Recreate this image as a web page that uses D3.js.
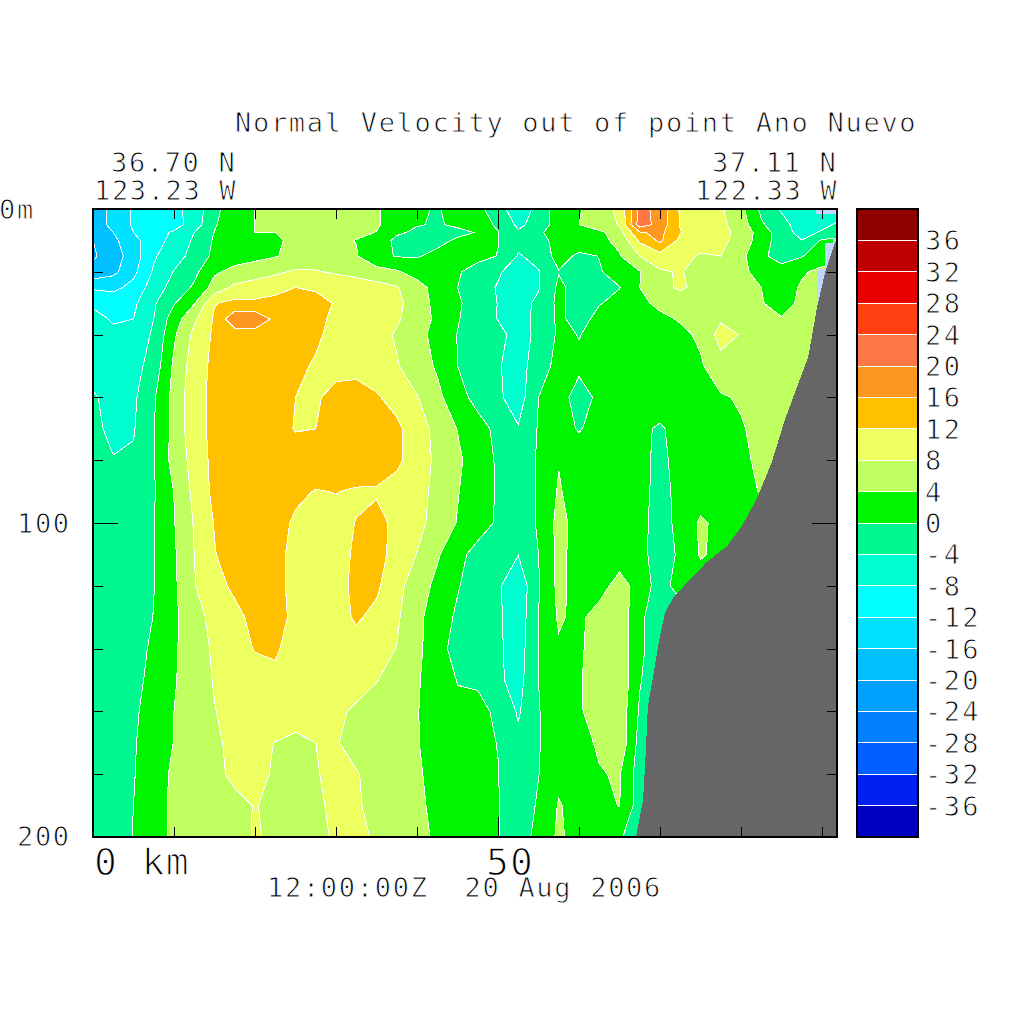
<!DOCTYPE html>
<html><head><meta charset="utf-8">
<script src="https://cdn.jsdelivr.net/npm/d3@7"></script>
<style>
html,body{margin:0;padding:0;background:#fff}
svg{display:block}
text{font-family:"DejaVu Sans Mono",monospace;fill:#000;stroke:#fff;paint-order:fill stroke}
</style></head><body>
<svg id="c" width="1024" height="1024"></svg>
<script>
// ---- DATA ----
const titleText = "Normal Velocity out of point Ano Nuevo";
const dateText = "12:00:00Z  20 Aug 2006";
const startLabels = ["36.70 N", "123.23 W"];
const endLabels = ["37.11 N", "122.33 W"];
const depthLabels = [[0, "0m"], [100, "100"], [200, "200"]];
const levels = d3.range(-40, 41, 4);
const bandColors = ["#0000c0","#0020f0","#0060ff","#0080ff","#00a0ff","#00c0ff","#00e0ff","#00ffff","#00ffd0","#00f890",
                    "#00f500","#c0ff60","#eeff60","#ffc000","#ff9820","#ff7845","#ff4010","#e80000","#bf0000","#900000"];
const kmColumns = d3.range(0, 92.6, 2.5);
const depthRows = [0,5,7.5,10,15,20,25,30,35,40,50,60,70,80,90,100,110,120,130,140,150,160,170,180,190,200];
const d000=[-18,-15,-11.5,-10,-9,-6.7,-0.9,2,4.1,6,6.5,6.5,6,5.5,4.4,2.5,0.6,-0.3,1.5,1,-2,-7,-2.5,2,3.6,6.5,8.7,21,19,11.5,9.5,8.5,5,-0.8,-4.5,-6,-6,-6];
const d005=[-18,-15,-11.5,-10,-9.5,-6.2,-0.3,2,4.1,6,6.5,6.5,6,5.5,4.5,2,0.2,-0.3,0.5,1.5,-0.5,-4.8,-2.5,2,4,6.5,8.2,22,18.5,11.7,9.5,9,6,0.5,-2.5,-6,-5,-3];
const d007=[-19,-16,-12,-9.5,-7.5,-4,0.1,2.5,4,4,5.5,6,5.5,4.8,3.9,0.5,-0.6,-0.8,-0.8,0.2,0.1,-3.5,-0.5,1.5,2.5,3,6.5,15.5,17,12.2,10,9,7,2,-2,-5.5,-3.5,-2];
const d010=[-20,-17,-13,-10,-6.5,-3.5,0.5,2.5,3,3.6,4.6,5.2,4.6,3.9,2,-0.8,-1.3,-1,0.5,1,0.1,-3,-1.5,1.5,2.5,3,5,12.7,16.8,11,10,9,6.5,2,-2,-3.9,0.5,1];
const d015=[-20.5,-18,-14,-8.5,-5.5,-2.8,1,2.5,3,3.8,5,5.6,5,4.3,1,-0.2,-0.3,1,1.5,1,-0.1,-4.3,-3,1.6,-0.8,0.1,3.7,8,10.5,9.5,7.5,8,5,1,-2,-0.2,2,2.5];
const d020=[-19,-17,-13,-7.5,-3.8,-1,3.5,5,6,7.2,8.6,8.3,7.5,6.5,5.5,4.5,2.5,1.5,0.4,-1.5,-3.5,-6,-4.2,-0.2,-1.5,-0.3,1.5,3.8,7.5,8.3,6.5,6.5,5,2.5,2,3.5,5,5];
const d025=[-12.5,-13,-10.8,-6,-2.5,0.6,5.5,9,10,11,12,11.5,11,10.5,9.5,8.3,5.5,2.5,0,-2.3,-4.3,-6.5,-4.3,0.8,-1.5,-2.5,-0.1,4,7,8.5,7,6.5,5.5,4,2,4.5,5.5,5.5];
const d030=[-8.8,-9.5,-8.8,-4.5,-0.3,3.8,11.8,13,12.7,13,13.5,13.3,11.7,11,10,9,6,2.8,0.6,-2,-4.1,-5.5,-3.2,1,-2,-0.2,1,3,5,6,7.7,6.5,5.5,4.3,2.2,5,5.5,5.5];
const d035=[-6.5,-8.5,-8,-4,2,7.3,12.5,19,19,15,14.5,13.2,11,10.7,10,8.5,6,3.2,0.3,-2.2,-4.1,-5.5,-3,0.7,-1.3,1,1.3,2,3,4.4,6.5,7.5,6,4.8,4.3,5.5,5.5,5.5];
const d040=[-6,-7,-6.3,-3.5,3.4,9,12.7,14,14.2,14.5,14.2,12.8,10.5,10,9.3,7.6,5.3,2.7,-0.1,-1.5,-3.1,-5.2,-3.3,0.7,-0.1,0.8,1,1.5,2,3,4.7,9.5,7.8,6,5.8,5.5,5.5,5.5];
const d050=[-6,-6.5,-5.5,-2.3,4.7,10,13,14,14.5,14,13,11.5,11,10.5,9.5,8.3,6,3.5,0,-1.5,-3.6,-6,-1.5,1,0.5,1,1.2,1.5,2,2.7,3.5,6.5,6,6.5,6,5.5,5,5];
const d060=[-3.5,-5.5,-4.7,-0.5,5.3,10.6,13,14,14,13.5,12,11.6,13,14,12.5,10.3,8.2,5,1.5,-1.3,-3.3,-6,0,1,-1,0.5,1.5,1.8,2.2,2.5,3,3.6,4.4,5.5,6,6,6,6];
const d070=[-3,-5,-4.3,-0.2,5.3,10.5,13,14,14.5,14,11.7,12,14,14.5,14,13,9.5,7,3.9,1.5,-1,-3.7,0.3,1,-0.2,1,1.5,0.8,-0.5,1.5,2.5,3,3.7,5,5.5,5.5,5.5,5.5];
const d080=[-2.7,-3.8,-3.5,-0.3,5.5,9.4,13.2,14,14.5,15,14.5,14.5,15,15,14.5,12.8,10,7.2,4.7,2,-0.5,-2.8,0.5,3.8,1.5,1.5,2,0.8,-0.7,1,2,2.8,3.5,4.5,5,5,5,5];
const d090=[-2.7,-3,-2,-0.3,4.1,9,13,14,14,14,12.8,11.8,12.1,11.5,11.5,10.5,9.3,7,4.2,2,-0.4,-2.5,0.5,4.4,2,1,2,0.8,-0.8,0.7,2,2.5,3,4.2,4.5,4.5,4.5,4.5];
const d100=[-2.7,-2.7,-1.8,-0.2,3.8,8.3,12.2,14,14.2,13.5,11.4,11,11,12.1,13.5,10.8,9,6.7,3.8,1.6,-0.5,-2.8,0.5,5.2,2.5,1,1.5,0.7,-1,0.7,4.6,3,3,3,3,3,3,3];
const d110=[-2.8,-2.8,-1.8,-0.1,3.5,8,11.8,14,14,13,11,10.5,10.8,12.5,13.5,10.5,7.9,4.5,1,-1.2,-0.1,-3.9,0,5,2.5,1,1.5,1,-1.5,0.5,4.4,3,3,3,3,3,3,3];
const d120=[-2.8,-2.8,-1.8,-0.1,3.3,7.8,10.8,12.7,13.5,13,11,10.5,10.5,13,12.7,9.2,6,3,0.3,-2,-3.4,-7,-0.3,5,2.5,2,6,2,-1.5,1.5,2,2,2,2,2,2,2,2];
const d130=[-3,-2.8,-2,0.1,3.2,6.8,9,11,13,13.5,11,10.5,10.5,12.5,11,8.6,5,2,-0.6,-2.2,-3.3,-6.5,0,4.5,3,6,6.5,1,-3,-2,-2,-2,-2,-2,-2,-2,-2,-2];
const d140=[-3,-2.8,-1.5,0.7,3.4,6.5,8.5,10.5,12.2,12.3,11,10.5,10.5,10.5,9.5,7.9,5,1.5,-1.5,-2.5,-3.3,-6,0,3.5,3.5,5.5,6.5,1,-3,-3,-3,-3,-3,-3,-3,-3,-3,-3];
const d150=[-3,-2.5,-1,1,3.6,6.5,8.2,9.5,10.5,11.5,11,10,9.5,9,8.1,7,4.5,1.5,-0.1,-0.3,-3.3,-5.5,0,2.5,3.8,5,7,0.3,-3,-3,-3,-3,-3,-3,-3,-3,-3,-3];
const d160=[-3,-2.2,-0.5,1.3,4,6,7.9,9,10,10.5,9,8,8.5,7.6,7,6,4.2,2,0.5,0.6,-0.4,-4.5,-0.2,2.5,3.8,4.8,6.5,-0.5,-3,-3,-3,-3,-3,-3,-3,-3,-3,-3];
const d170=[-3,-2,-0.3,1.7,4.1,6,7.6,8.6,9,7.9,7.5,8,8.2,7,6.5,5.5,4.2,2.5,1.5,1,-0.1,-3,-0.2,2,3,4.4,7,-1.5,-3,-3,-3,-3,-3,-3,-3,-3,-3,-3];
const d180=[-3,-1.8,-0.2,2.2,4.7,6,7.4,8.5,8.7,7.7,7.5,7.8,8.8,8.2,7,5.7,4.4,3,2,1.2,0.1,-3,-0.1,3,3,3.8,4.3,-2,-3,-3,-3,-3,-3,-3,-3,-3,-3,-3];
const d190=[-3,-1.5,0,2.5,4.7,6,7,7.4,8.1,7.5,7,7.5,8.6,8.4,7,5.8,4.8,3,2,1.2,0.2,-2.5,0.5,4.3,2.5,3,4.1,-2,-3,-3,-3,-3,-3,-3,-3,-3,-3,-3];
const d200=[-3,-1.3,0.1,2.5,4.7,6,7,7.5,8.1,7.8,7,7.6,8.2,8.2,7.9,6,4.9,3.5,2,1.2,0.2,-2.4,1.5,4.6,2.5,2.5,0.6,-3,-3,-3,-3,-3,-3,-3,-3,-3,-3,-3];
const velocityRows=[d000,d005,d007,d010,d015,d020,d025,d030,d035,d040,d050,d060,d070,d080,d090,d100,d110,d120,d130,d140,d150,d160,d170,d180,d190,d200];
// sea floor, km along the section and depth of the bottom
const floorKm   =[67.04,67.9,68.15,68.5,69.9,70.6,71.6,73.3,75.8,78.3,80.2,82,83.8,85.4,88.3,89.4,90.4,91.6,91.85];
const floorDepth=[200,188.2,177.7,158.6,137.3,128.7,123.9,119.1,112.4,107.3,100.6,92,80.6,67.2,47.1,31.2,20,10.8,9.9];
// undefined-value cells over the shelf
const shelfKm   =[89.4,90.4,91.4,91.85];
const shelfDepth=[19.1,10.8,9.2,9.2];
const surfaceGapKm=[89.2,91.85];
const surfaceGapDepth=[0,1.3];

// ---- SCALES ----
const svg=d3.select("#c");
const x=d3.scaleLinear().domain([0,91.85]).range([93,837]);
const y=d3.scaleLinear().domain([0,200]).range([209,837]);
const cbY=d3.scaleLinear().domain([-40,40]).range([837,209]);
const colIdx=d3.scaleLinear().domain(d3.range(kmColumns.length)).range(kmColumns);
const rowIdx=d3.scaleLinear().domain(d3.range(depthRows.length)).range(depthRows);

// ---- FIELD ----
const defs=svg.append("defs");
defs.append("clipPath").attr("id","plot").append("rect")
  .attr("x",x(0)).attr("y",y(0)).attr("width",x(91.85)-x(0)).attr("height",y(200)-y(0));
const n=kmColumns.length,m=depthRows.length;
const flat=velocityRows.flat();
const contours=d3.contours().size([n,m]).thresholds(levels.slice(0,-1))(flat);
const path=d3.geoPath(d3.geoTransform({point(a,b){this.stream.point(x(colIdx(a-.5)),y(rowIdx(b-.5)));}}));
const field=svg.append("g").attr("clip-path","url(#plot)").attr("shape-rendering","crispEdges");
field.append("rect").attr("x",x(0)).attr("y",y(0)).attr("width",x(91.85)-x(0)).attr("height",y(200)-y(0)).attr("fill",bandColors[9]);
field.selectAll("path.band").data(contours).join("path").attr("class","band")
  .attr("d",path).attr("fill",(d,i)=>bandColors[i]).attr("stroke","#fff").attr("stroke-width",1);
field.append("path").datum(d3.range(shelfKm.length))
  .attr("d",d3.area().curve(d3.curveStepAfter).x(i=>x(shelfKm[i])).y0(i=>y(shelfDepth[i])).y1(y(45)))
  .attr("fill","#c0d8ff");
field.append("rect").attr("x",x(surfaceGapKm[0])).attr("y",y(surfaceGapDepth[0]))
  .attr("width",x(surfaceGapKm[1])-x(surfaceGapKm[0])).attr("height",y(surfaceGapDepth[1])-y(surfaceGapDepth[0])+1).attr("fill","#c0d8ff");
field.append("path").datum(d3.range(floorKm.length))
  .attr("d",d3.area().x(i=>x(floorKm[i])).y0(i=>y(floorDepth[i])).y1(y(200)))
  .attr("fill","#666");

// ---- FRAME AND TICKS ----
const kmMinor=[10,20,30,40,60,70,80,90],kmMajor=[50];
const depthMinor=[20,40,60,80,120,140,160,180],depthMajor=[100];
function ticks(axis,scale,vals,size,tx,ty){
  svg.append("g").attr("transform",`translate(${tx},${ty})`)
    .call(axis(scale).tickValues(vals).tickSize(size).tickFormat(""))
    .call(g=>g.select(".domain").remove())
    .call(g=>g.selectAll("line").attr("stroke","#000").attr("stroke-width",1).attr("shape-rendering","crispEdges"));
}
ticks(d3.axisBottom,x,kmMinor,10,0,209); ticks(d3.axisBottom,x,kmMajor,20,0,209);
ticks(d3.axisTop,x,kmMinor,10,0,837);    ticks(d3.axisTop,x,kmMajor,20,0,837);
ticks(d3.axisRight,y,depthMinor,10,93,0);ticks(d3.axisRight,y,depthMajor,25,93,0);
ticks(d3.axisLeft,y,depthMinor,10,837,0);ticks(d3.axisLeft,y,depthMajor,25,837,0);
svg.append("rect").attr("x",x(0)).attr("y",y(0)).attr("width",x(91.85)-x(0)).attr("height",y(200)-y(0))
  .attr("fill","none").attr("stroke","#000").attr("stroke-width",2).attr("shape-rendering","crispEdges");

// ---- COLOUR BAR ----
const cb=svg.append("g").attr("shape-rendering","crispEdges");
cb.selectAll("rect").data(bandColors).join("rect")
  .attr("x",857).attr("width",61).attr("y",(d,i)=>cbY(levels[i+1])).attr("height",(d,i)=>cbY(levels[i])-cbY(levels[i+1])).attr("fill",d=>d);
cb.selectAll("line").data(levels.slice(1,-1)).join("line")
  .attr("x1",857).attr("x2",918).attr("y1",d=>cbY(d)).attr("y2",d=>cbY(d)).attr("stroke","#fff").attr("stroke-width",1);
cb.append("rect").attr("x",857).attr("y",209).attr("width",61).attr("height",628).attr("fill","none").attr("stroke","#000").attr("stroke-width",2);

// ---- TEXT ----
function label(s,px,py,size,spacing){
  return svg.append("text").attr("x",px).attr("y",py).attr("font-size",size)
    .attr("letter-spacing",spacing).style("stroke-width",(size*.033)+"px")
    .style("white-space","pre").text(s);
}
label(titleText,235,132,27,1.7);
label(startLabels[0],111,172,27,1.65);
label(startLabels[1],94,200,27,1.65);
label(endLabels[0],712,172,27,1.65);
label(endLabels[1],695,200,27,1.65);
label(depthLabels[0][1],-1,y(depthLabels[0][0])+10,27,1.65);
label(depthLabels[1][1],17,y(depthLabels[1][0])+10,27,1.65);
label(depthLabels[2][1],17,y(depthLabels[2][0])+9,27,1.65);
label("0 km",94,875,38,1);
label("50",486,875,38,1);
label(dateText,267,897,27,1.7);
levels.slice(1,-1).forEach(v=>label(String(v),925,cbY(v)+10,27,2.4));
</script>
</body></html>
